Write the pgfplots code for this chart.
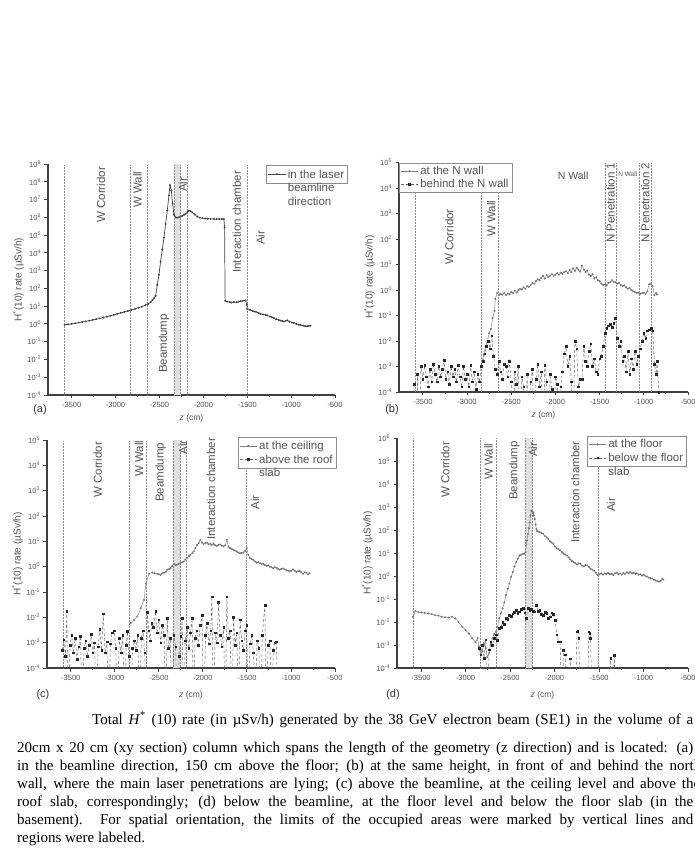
\documentclass[border=0pt]{standalone}
\usepackage{fontspec}
\setmainfont{Liberation Sans}
\newfontfamily\capfont{Liberation Serif}
\usepackage{pgfplots}
\pgfplotsset{compat=1.18}

\definecolor{axc}{gray}{0.25}
\definecolor{txc}{gray}{0.33}

\pgfplotsset{
  every axis/.append style={
    scale only axis,
    xmin=-3770, xmax=-500,
    axis x line*=bottom, axis y line*=left,
    axis line style={line width=1.5pt, draw=axc},
    xtick={-3500,-3000,...,-500}, minor x tick num=1,
    tick align=outside,
    major tick length=3.5pt, minor tick length=2pt,
    tick style={draw=axc, line width=0.9pt},
    xticklabel style={font=\fontsize{7.5}{8}\selectfont, text=txc},
    yticklabel style={font=\fontsize{7.5}{8}\selectfont, text=txc},
    xlabel style={font=\fontsize{8.5}{9}\selectfont, text=txc},
    ylabel style={font=\fontsize{10}{11}\selectfont, text=txc, yshift=-3pt},
    legend cell align=left,
    legend style={font=\fontsize{11.5}{13.5}\selectfont, text=txc, draw=black!45,
      line width=0.6pt, inner sep=1.5pt, row sep=-1pt, fill=white},
  },
  vline/.style={black!45, densely dotted, line width=0.5pt, forget plot},
  sA/.style={black!75, line width=0.7pt, mark=*, mark size=0.55pt},
  sTop/.style={black!50, line width=0.45pt, mark=*, mark size=0.75pt,
    mark options={fill=black!45, draw=black!55}},
  sBot/.style={black!60, line width=0.45pt, densely dashed, mark=square*, mark size=0.85pt,
    mark options={solid, fill=black!85, draw=black!85}},
}
\tikzset{
  lbl/.style={rotate=90, anchor=west, font=\fontsize{11.5}{11.5}\selectfont, text=txc, inner sep=0pt},
  pl/.style={font=\fontsize{11}{11}\selectfont, text=black!80, inner sep=0pt},
}

\begin{document}
\begin{tikzpicture}
\useasboundingbox (0,0) rectangle (695pt,-864pt);
\fill[white] (0,0) rectangle (695pt,-864pt);

% ---------------- (a) ----------------
\begin{axis}[ymode=log, log basis y=10, clip mode=individual,
  /pgf/number format/assume math mode=true, /pgf/number format/1000 sep={},
  yticklabel={10\textsuperscript{\pgfmathprintnumber{\tick}}},
  xlabel={\textit{z} (cm)}, ylabel={H\textsuperscript{*}(10) rate (µSv/h)},
  at={(48pt,-164pt)}, anchor=north west,
  width=287pt, height=231pt, ymin=1e-4, ymax=1e9, ytickten={-4,...,9},
  legend style={at={(1.045,0.996)}, anchor=north east}]
\fill[black!12] (axis cs:-2335,1e-4) rectangle (axis cs:-2260,1e9);
\addplot[vline] coordinates {(-3580,1e-4) (-3580,1e9)};
\addplot[vline] coordinates {(-2835,1e-4) (-2835,1e9)};
\addplot[vline] coordinates {(-2640,1e-4) (-2640,1e9)};
\addplot[vline] coordinates {(-2335,1e-4) (-2335,1e9)};
\addplot[vline] coordinates {(-2260,1e-4) (-2260,1e9)};
\addplot[vline] coordinates {(-2185,1e-4) (-2185,1e9)};
\addplot[vline] coordinates {(-1500,1e-4) (-1500,1e9)};
\addplot[sA] coordinates {
(-3580,0.89) (-3540,0.95) (-3500,1.0) (-3460,1.08) (-3420,1.18) (-3380,1.28) (-3340,1.4)
(-3300,1.52) (-3260,1.68) (-3220,1.85) (-3180,2.05) (-3140,2.3) (-3100,2.55) (-3060,2.85)
(-3020,3.25) (-2980,3.7) (-2940,4.2) (-2900,4.75) (-2860,5.4) (-2820,6.1) (-2780,7.0)
(-2740,8.1) (-2700,9.4) (-2660,11.3) (-2630,13) (-2600,17) (-2580,22) (-2563,28) (-2544,38)
(-2525,155) (-2506,580) (-2487,3.3e3) (-2468,1.5e4) (-2449,7.2e4) (-2430,4.2e5) (-2411,2.4e6)
(-2392,1.7e7) (-2380,6.5e7) (-2365,3.3e7) (-2350,5.8e6) (-2335,1.4e6) (-2316,1.0e6)
(-2300,9.5e5) (-2280,1.0e6) (-2259,1.1e6) (-2240,1.2e6) (-2220,1.4e6) (-2202,1.55e6)
(-2180,2.0e6) (-2164,2.4e6) (-2145,2.2e6) (-2126,1.9e6) (-2100,1.45e6) (-2069,1.1e6)
(-2040,9.5e5) (-2010,9e5) (-1980,8.6e5) (-1950,8.3e5) (-1920,8.1e5) (-1879,8e5) (-1850,8e5)
(-1820,8e5) (-1790,8e5) (-1766,8e5) (-1758,2.7e5) (-1752,20) (-1730,18) (-1700,17)
(-1680,16) (-1652,17) (-1620,16.5) (-1600,18) (-1576,19) (-1550,20) (-1519,21) (-1505,12)
(-1500,7.2) (-1470,6.2) (-1440,5.4) (-1424,5) (-1400,4.8) (-1370,4.1) (-1348,3.7) (-1320,3.4)
(-1290,3.2) (-1272,3.0) (-1240,2.6) (-1220,2.4) (-1196,2.1) (-1170,1.85) (-1140,1.65)
(-1120,1.55) (-1100,1.45) (-1082,1.36) (-1060,1.5) (-1044,1.6) (-1020,1.35) (-990,1.2)
(-969,1.15) (-940,1.0) (-910,0.9) (-892,0.87) (-860,0.8) (-840,0.75) (-817,0.74) (-800,0.78)
(-779,0.8)};
\addlegendentry{\begin{tabular}[t]{@{}l@{}}in the laser\\beamline\\direction\end{tabular}}
\node[lbl] at (axis cs:-3165,4.9e5) {W Corridor};
\node[lbl] at (axis cs:-2750,3.4e6) {W Wall};
\node[lbl] at (axis cs:-2235,2.7e7) {Air};
\node[lbl] at (axis cs:-2450,1.7e-3) {Beamdump};
\node[lbl] at (axis cs:-1620,750) {Interaction chamber};
\node[lbl] at (axis cs:-1350,2.8e4) {Air};
\node[pl, anchor=center, xshift=-8pt, yshift=-15pt] at (rel axis cs:0,0) {(a)};
\end{axis}

% ---------------- (b) ----------------
\begin{axis}[ymode=log, log basis y=10, clip mode=individual,
  /pgf/number format/assume math mode=true, /pgf/number format/1000 sep={},
  yticklabel={10\textsuperscript{\pgfmathprintnumber{\tick}}},
  xlabel={\textit{z} (cm)}, ylabel={H\textsuperscript{*}(10) rate (µSv/h)},
  at={(399pt,-162.5pt)}, anchor=north west,
  width=289pt, height=229.5pt, ymin=1e-4, ymax=1e5, ytickten={-4,...,5},
  legend style={at={(0,1)}, anchor=north west}]
\addplot[vline] coordinates {(-3590,1e-4) (-3590,1e5)};
\addplot[vline] coordinates {(-2840,1e-4) (-2840,1e5)};
\addplot[vline] coordinates {(-2645,1e-4) (-2645,1e5)};
\addplot[vline] coordinates {(-1440,1e-4) (-1440,1e5)};
\addplot[vline] coordinates {(-1315,1e-4) (-1315,1e5)};
\addplot[vline] coordinates {(-1050,1e-4) (-1050,1e5)};
\addplot[vline] coordinates {(-915,1e-4) (-915,1e5)};
\addplot[sTop] coordinates {
(-2830,1.5e-3) (-2810,3e-3) (-2790,6e-3) (-2770,1e-2) (-2750,2e-2) (-2730,3e-2) (-2710,8e-2)
(-2690,0.15) (-2680,0.45) (-2660,0.76) (-2640,0.63) (-2620,0.71) (-2600,0.66) (-2580,0.76)
(-2560,0.63) (-2540,0.72) (-2520,0.68) (-2500,0.83) (-2480,0.76) (-2460,0.95) (-2440,0.79)
(-2420,1.0) (-2400,1.12) (-2380,1.05) (-2360,1.26) (-2340,1.12) (-2320,1.41) (-2300,1.32)
(-2280,1.58) (-2260,1.91) (-2240,1.78) (-2220,2.24) (-2200,2.63) (-2180,2.4) (-2160,3.02)
(-2140,3.55) (-2120,2.82) (-2100,3.8) (-2080,3.16) (-2060,3.55) (-2040,4.17) (-2020,3.63)
(-2000,3.98) (-1980,4.57) (-1960,3.98) (-1940,4.79) (-1920,4.27) (-1900,5.01) (-1880,5.5)
(-1860,4.57) (-1840,6.03) (-1820,5.01) (-1800,7.08) (-1780,5.62) (-1760,7.59) (-1740,6.31)
(-1720,5.25) (-1700,8.91) (-1680,6.31) (-1660,5.01) (-1640,5.75) (-1620,3.98) (-1600,3.55)
(-1580,4.17) (-1560,2.82) (-1540,3.16) (-1520,2.4) (-1500,2.24) (-1480,1.78) (-1460,1.58)
(-1440,1.66) (-1420,1.51) (-1400,1.91) (-1380,2.0) (-1360,2.4) (-1340,2.09) (-1320,2.0)
(-1300,1.78) (-1280,1.91) (-1260,1.58) (-1240,1.41) (-1220,1.51) (-1200,1.26) (-1180,1.12)
(-1160,1.2) (-1140,1.0) (-1120,0.89) (-1100,0.83) (-1080,0.76) (-1060,0.79) (-1040,0.71)
(-1020,0.76) (-1000,0.79) (-980,0.71) (-960,0.89) (-940,1.66) (-920,1.78) (-900,1.41)
(-880,0.63) (-860,0.76) (-850,0.66)};
\addlegendentry{at the N wall}
\addplot[sBot] coordinates {
(-3600,2e-4) (-3580,1e-6) (-3560,5e-4) (-3540,1e-6) (-3520,1e-3) (-3500,3.2e-4) (-3480,1.12e-3)
(-3460,4e-4) (-3440,1.6e-4) (-3420,7.9e-4) (-3400,2.5e-4) (-3380,1.26e-3) (-3360,5e-4)
(-3340,2.5e-4) (-3320,1e-3) (-3300,4e-4) (-3280,7.9e-4) (-3260,1.8e-3) (-3240,3.2e-4)
(-3220,6.3e-4) (-3200,2e-4) (-3180,1e-3) (-3160,4e-4) (-3140,7.9e-4) (-3120,2.5e-4)
(-3100,1.12e-3) (-3080,4e-4) (-3060,1.6e-4) (-3040,1e-3) (-3020,3.2e-4) (-3000,5e-4)
(-2980,1.6e-4) (-2960,1.12e-3) (-2940,2.5e-4) (-2920,6.3e-4) (-2900,1.26e-4) (-2880,5e-4)
(-2860,2.5e-4) (-2840,1e-3) (-2820,1.6e-3) (-2800,3.2e-3) (-2780,6.3e-3) (-2760,1e-2)
(-2740,5e-3) (-2720,1.6e-2) (-2700,2.5e-3) (-2680,7.9e-4) (-2660,5e-4) (-2640,1.6e-3)
(-2620,6.3e-4) (-2600,3.2e-4) (-2580,1.26e-3) (-2560,1e-3) (-2540,4e-4) (-2520,1.6e-3)
(-2500,2.5e-4) (-2480,1e-6) (-2460,6.3e-4) (-2440,2e-4) (-2420,1e-3) (-2400,1e-6)
(-2380,4e-4) (-2360,1.6e-4) (-2340,1e-6) (-2320,5e-4) (-2300,1e-6) (-2280,2.5e-4)
(-2260,7.9e-4) (-2240,1e-6) (-2220,3.2e-4) (-2200,1.26e-3) (-2180,1.6e-4) (-2160,6.3e-4)
(-2140,1e-6) (-2120,1.12e-3) (-2100,2.5e-4) (-2080,1e-6) (-2060,5e-4) (-2040,1.26e-4)
(-2020,1e-6) (-2000,4e-4) (-1980,2e-4) (-1960,1e-6) (-1940,1.6e-4) (-1920,6.3e-4)
(-1900,3.2e-3) (-1880,6.3e-3) (-1860,1e-3) (-1840,2.5e-3) (-1820,2.5e-4) (-1800,1e-6)
(-1780,1e-2) (-1760,5e-3) (-1740,1.6e-4) (-1720,3.2e-4) (-1700,3.2e-4) (-1680,6.3e-3)
(-1660,1.6e-3) (-1640,1e-3) (-1620,4e-3) (-1600,7.9e-3) (-1580,1e-3) (-1560,2e-3)
(-1540,6.3e-4) (-1520,5e-4) (-1500,2e-3) (-1480,2.5e-3) (-1460,6.3e-3) (-1440,2e-2)
(-1420,3.2e-2) (-1400,4e-2) (-1380,4.5e-2) (-1360,3.5e-2) (-1340,5e-2) (-1320,7.9e-2)
(-1300,1.26e-2) (-1280,6.3e-3) (-1260,1e-2) (-1240,1.6e-3) (-1220,2.5e-3) (-1200,6.3e-4)
(-1180,4e-3) (-1160,5e-4) (-1140,2e-3) (-1120,7.9e-4) (-1100,4e-3) (-1080,1.26e-3)
(-1060,2.5e-3) (-1040,5e-3) (-1020,1e-2) (-1000,2e-2) (-980,1.26e-2) (-960,2.5e-2)
(-940,2.8e-2) (-920,3.2e-2) (-900,2.5e-2) (-880,1.26e-3) (-860,5e-4) (-850,1.6e-3)
(-830,1e-4)};
\addlegendentry{behind the N wall}
\node[lbl] at (axis cs:-3200,9.5) {W Corridor};
\node[lbl] at (axis cs:-2725,120) {W Wall};
\node[lbl] at (axis cs:-1378,70) {N Penetration 1};
\node[lbl] at (axis cs:-983,70) {N Penetration 2};
\node[font=\fontsize{10.5}{10.5}\selectfont, text=txc] at (axis cs:-1800,3e4) {N Wall};
\node[font=\fontsize{6.5}{6.5}\selectfont, text=txc] at (axis cs:-1182,3.5e4) {N Wall};
\node[pl, anchor=center, xshift=-7pt, yshift=-18pt] at (rel axis cs:0,0) {(b)};
\end{axis}

% ---------------- (c) ----------------
\begin{axis}[ymode=log, log basis y=10, clip mode=individual,
  /pgf/number format/assume math mode=true, /pgf/number format/1000 sep={},
  yticklabel={10\textsuperscript{\pgfmathprintnumber{\tick}}},
  xlabel={\textit{z} (cm)}, ylabel={H\textsuperscript{*}(10) rate (µSv/h)},
  at={(47pt,-440pt)}, anchor=north west,
  width=288pt, height=228pt, ymin=1e-4, ymax=1e5, ytickten={-4,...,5},
  xlabel style={yshift=-4pt},
  legend style={at={(1.005,1.013)}, anchor=north east}]
\fill[black!12] (axis cs:-2335,1e-4) rectangle (axis cs:-2260,1e5);
\addplot[vline] coordinates {(-3590,1e-4) (-3590,1e5)};
\addplot[vline] coordinates {(-2840,1e-4) (-2840,1e5)};
\addplot[vline] coordinates {(-2640,1e-4) (-2640,1e5)};
\addplot[vline] coordinates {(-2335,1e-4) (-2335,1e5)};
\addplot[vline] coordinates {(-2260,1e-4) (-2260,1e5)};
\addplot[vline] coordinates {(-2185,1e-4) (-2185,1e5)};
\addplot[vline] coordinates {(-1510,1e-4) (-1510,1e5)};
\addplot[sTop] coordinates {
(-2819,5.9e-3) (-2781,7.9e-3) (-2744,1.1e-2) (-2706,2.3e-2) (-2669,4.9e-2) (-2646,0.22)
(-2612,0.52) (-2574,0.59) (-2550,0.55) (-2518,0.52) (-2500,0.5) (-2481,0.48) (-2460,0.55)
(-2443,0.58) (-2420,0.62) (-2405,0.76) (-2385,0.8) (-2368,0.87) (-2350,1.05) (-2330,1.29)
(-2310,1.15) (-2293,1.2) (-2275,1.3) (-2255,1.38) (-2235,1.5) (-2217,1.58) (-2200,1.9)
(-2180,2.2) (-2160,2.6) (-2142,2.95) (-2120,3.4) (-2104,4.0) (-2085,5.5) (-2067,7.2)
(-2048,8.5) (-2029,11.5) (-2010,9) (-1992,7.9) (-1972,8.5) (-1954,8.9) (-1935,7.6)
(-1916,8.0) (-1898,7.2) (-1879,8.1) (-1860,7.0) (-1841,6.6) (-1822,7.3) (-1804,7.5)
(-1785,6.8) (-1766,6.3) (-1748,7.0) (-1728,11.5) (-1710,6.2) (-1691,5.4) (-1672,5.0)
(-1653,4.6) (-1635,4.3) (-1616,4.0) (-1597,3.6) (-1578,3.4) (-1560,3.5) (-1540,3.6)
(-1522,4.1) (-1503,5.4) (-1484,2.9) (-1465,2.2) (-1446,2.0) (-1427,1.86) (-1408,1.6)
(-1390,1.45) (-1370,1.5) (-1352,1.38) (-1333,1.25) (-1315,1.3) (-1296,1.15) (-1277,1.07)
(-1258,1.12) (-1239,1.0) (-1220,0.95) (-1202,0.87) (-1183,0.95) (-1164,0.9) (-1145,0.8)
(-1126,0.76) (-1108,0.82) (-1089,0.85) (-1070,0.78) (-1051,0.72) (-1032,0.7) (-1014,0.65)
(-995,0.7) (-976,0.78) (-958,0.7) (-939,0.62) (-920,0.66) (-901,0.68) (-882,0.6) (-863,0.52)
(-845,0.6) (-826,0.58) (-807,0.5) (-788,0.55)};
\addlegendentry{at the ceiling}
\addplot[sBot] coordinates {
(-3600,5e-4) (-3580,1.3e-3) (-3560,3e-4) (-3545,1.7e-2) (-3530,1e-6) (-3510,8e-4) (-3490,2e-3)
(-3470,4e-4) (-3450,1.5e-3) (-3430,2.2e-4) (-3410,7e-4) (-3390,1.8e-3) (-3370,1e-6)
(-3350,6e-4) (-3330,1.2e-3) (-3310,3e-4) (-3290,8e-4) (-3270,2.2e-3) (-3250,4e-4)
(-3230,1e-3) (-3210,1e-6) (-3190,7e-4) (-3170,3.5e-3) (-3150,5e-4) (-3131,1.4e-2)
(-3110,4e-4) (-3090,1.1e-3) (-3070,1e-6) (-3050,9e-4) (-3030,2.5e-3) (-3007,3e-3)
(-2990,6e-4) (-2970,1e-6) (-2950,1.5e-3) (-2930,4e-4) (-2910,2e-3) (-2890,1e-6)
(-2870,8e-4) (-2857,2.8e-3) (-2840,3e-4) (-2820,1e-6) (-2800,6e-4) (-2780,1.2e-3)
(-2760,5e-4) (-2740,2e-3) (-2720,1e-6) (-2700,1.5e-3) (-2680,3e-3) (-2660,4e-4) (-2645,1e-6)
(-2631,1.6e-2) (-2615,3e-3) (-2600,1.2e-3) (-2580,6e-3) (-2560,4e-3) (-2537,1.7e-2)
(-2520,2.5e-3) (-2500,8e-3) (-2480,1e-3) (-2460,5e-3) (-2440,2e-3) (-2420,1e-6) (-2405,9e-3)
(-2390,6e-4) (-2370,1.5e-3) (-2350,1e-6) (-2330,2e-3) (-2310,7e-4) (-2290,1e-6) (-2270,3e-4)
(-2250,1.8e-3) (-2236,9e-3) (-2220,1e-6) (-2200,1.2e-3) (-2180,4e-3) (-2160,6e-4)
(-2140,2.5e-3) (-2123,9e-3) (-2105,1e-6) (-2090,1.5e-3) (-2070,3e-3) (-2050,8e-4)
(-2030,5e-3) (-2010,1.2e-2) (-1990,1e-6) (-1970,2e-3) (-1950,6e-3) (-1930,9e-4) (-1910,3e-3)
(-1898,6.5e-2) (-1880,1e-6) (-1860,2.5e-3) (-1840,1e-3) (-1822,4e-2) (-1805,2e-3)
(-1785,7e-4) (-1765,4e-3) (-1745,1e-6) (-1728,6.5e-2) (-1710,1.5e-3) (-1690,3e-3)
(-1670,1e-6) (-1653,1e-2) (-1635,8e-4) (-1615,2.5e-3) (-1597,1e-6) (-1578,8e-3)
(-1560,1.2e-3) (-1540,5e-4) (-1520,3e-3) (-1503,5e-3) (-1485,1e-6) (-1465,9e-4) (-1445,2e-3)
(-1425,4e-4) (-1405,1e-6) (-1385,1.2e-3) (-1365,6e-4) (-1345,1e-6) (-1325,2e-3)
(-1296,3e-2) (-1280,1e-6) (-1260,8e-4) (-1239,1.2e-3) (-1220,1e-6) (-1200,5e-4)
(-1183,1e-3) (-1164,1.1e-3) (-1150,1e-6)};
\addlegendentry{\begin{tabular}[t]{@{}l@{}}above the roof\\slab\end{tabular}}
\node[lbl] at (axis cs:-3195,520) {W Corridor};
\node[lbl] at (axis cs:-2725,3500) {W Wall};
\node[lbl] at (axis cs:-2480,360) {Beamdump};
\node[lbl] at (axis cs:-2225,2.6e4) {Air};
\node[lbl] at (axis cs:-1909,11.5) {Interaction chamber};
\node[lbl] at (axis cs:-1409,180) {Air};
\node[pl, anchor=center, xshift=-4pt, yshift=-27pt] at (rel axis cs:0,0) {(c)};
\end{axis}

% ---------------- (d) ----------------
\begin{axis}[ymode=log, log basis y=10, clip mode=individual,
  /pgf/number format/assume math mode=true, /pgf/number format/1000 sep={},
  yticklabel={10\textsuperscript{\pgfmathprintnumber{\tick}}},
  xlabel={\textit{z} (cm)}, ylabel={H\textsuperscript{*}(10) rate (µSv/h)},
  at={(397pt,-438pt)}, anchor=north west,
  width=291pt, height=230pt, ymin=1e-4, ymax=1e6, ytickten={-4,...,6},
  xlabel style={yshift=-4pt},
  legend style={at={(0.653,1.01)}, anchor=north west}]
\fill[black!12] (axis cs:-2325,1e-4) rectangle (axis cs:-2252,1e6);
\addplot[vline] coordinates {(-3590,1e-4) (-3590,1e6)};
\addplot[vline] coordinates {(-2838,1e-4) (-2838,1e6)};
\addplot[vline] coordinates {(-2651,1e-4) (-2651,1e6)};
\addplot[vline] coordinates {(-2325,1e-4) (-2325,1e6)};
\addplot[vline] coordinates {(-2252,1e-4) (-2252,1e6)};
\addplot[vline] coordinates {(-1511,1e-4) (-1511,1e6)};
\addplot[sTop] coordinates {
(-3590,1.7e-2) (-3563,2.95e-2) (-3530,2.7e-2) (-3495,2.6e-2) (-3460,2.5e-2) (-3419,2.35e-2)
(-3380,2.2e-2) (-3343,2.0e-2) (-3305,1.9e-2) (-3267,1.7e-2) (-3230,1.6e-2) (-3191,1.55e-2)
(-3153,1.7e-2) (-3115,1.45e-2) (-3077,1.0e-2) (-3039,6.3e-3) (-3001,4.5e-3) (-2963,3.2e-3)
(-2925,1.95e-3) (-2887,1.3e-3) (-2865,2e-3) (-2849,8.7e-4) (-2830,4e-4) (-2811,5.2e-4)
(-2792,1.2e-3) (-2773,7.2e-4) (-2754,3e-4) (-2735,4.5e-4) (-2716,1.1e-3) (-2697,1.95e-3)
(-2678,3e-3) (-2659,3.8e-3) (-2640,6e-3) (-2621,1.45e-2) (-2602,2.4e-2) (-2583,3.9e-2)
(-2564,7e-2) (-2545,0.15) (-2526,0.28) (-2507,0.47) (-2488,0.9) (-2469,1.5) (-2450,2.6)
(-2431,4.0) (-2412,5.6) (-2393,7.8) (-2374,8.5) (-2355,9.1) (-2340,9.5) (-2325,11) (-2310,35)
(-2298,68) (-2289,120) (-2279,210) (-2270,420) (-2260,680) (-2250,640) (-2241,570)
(-2232,420) (-2222,300) (-2212,170) (-2203,110) (-2194,90) (-2184,85) (-2165,80) (-2146,72)
(-2127,68) (-2108,55) (-2089,48) (-2070,40) (-2051,33) (-2032,29) (-2013,25) (-1994,19)
(-1975,16) (-1956,14.5) (-1937,13) (-1918,11) (-1899,9.5) (-1880,8.5) (-1861,7.8) (-1842,6.5)
(-1823,5.2) (-1804,4.5) (-1785,4.0) (-1766,3.6) (-1747,3.2) (-1728,3.5) (-1709,3.4)
(-1690,2.8) (-1671,2.6) (-1652,3.0) (-1633,2.9) (-1614,2.5) (-1595,2.1) (-1576,1.9)
(-1557,1.7) (-1538,1.4) (-1520,1.15) (-1511,1.07) (-1492,1.2) (-1473,1.3) (-1454,1.15)
(-1435,1.3) (-1416,1.2) (-1397,1.35) (-1378,1.2) (-1359,1.25) (-1340,1.1) (-1321,1.3)
(-1302,1.4) (-1283,1.2) (-1264,1.3) (-1245,1.15) (-1226,1.35) (-1207,1.25) (-1188,1.45)
(-1169,1.3) (-1150,1.5) (-1131,1.3) (-1112,1.4) (-1093,1.25) (-1074,1.3) (-1055,1.15)
(-1036,1.2) (-1017,1.05) (-998,1.15) (-979,1.0) (-960,0.95) (-941,0.85) (-922,0.8)
(-903,0.78) (-884,0.7) (-865,0.65) (-846,0.6) (-827,0.58) (-808,0.62) (-789,0.75) (-778,0.7)};
\addlegendentry{at the floor}
\addplot[sBot] coordinates {
(-2849,7.2e-4) (-2830,3.8e-4) (-2811,1e-3) (-2792,2.7e-4) (-2773,1.7e-3) (-2754,1e-6)
(-2735,6.2e-4) (-2716,1.4e-3) (-2697,1e-3) (-2678,2e-3) (-2659,2.8e-3) (-2640,1.6e-3)
(-2621,5.4e-3) (-2602,6e-3) (-2583,1e-2) (-2564,8e-3) (-2545,1.45e-2) (-2526,1.3e-2)
(-2507,2e-2) (-2488,1.8e-2) (-2469,2.3e-2) (-2450,2.6e-2) (-2431,3.3e-2) (-2412,2.4e-2)
(-2393,2.8e-2) (-2374,3.5e-2) (-2355,3.9e-2) (-2336,2.5e-2) (-2317,1.45e-2) (-2298,4e-2)
(-2279,3.3e-2) (-2260,3.6e-2) (-2241,3e-2) (-2222,2.8e-2) (-2203,5.4e-2) (-2184,3e-2)
(-2165,3.2e-2) (-2146,2.2e-2) (-2127,2.0e-2) (-2108,2.6e-2) (-2089,2.4e-2) (-2070,1.5e-2)
(-2051,1.7e-2) (-2032,2.5e-2) (-2013,2.2e-2) (-1994,1.2e-2) (-1975,2.8e-3) (-1956,1.4e-3)
(-1937,1.4e-3) (-1918,1e-6) (-1899,6e-4) (-1880,3.8e-4) (-1861,1e-6) (-1842,1e-6)
(-1823,2.5e-4) (-1804,1e-6) (-1785,1e-6) (-1766,1e-6) (-1747,3.8e-3) (-1738,4.2e-3)
(-1728,2e-3) (-1709,1e-6) (-1690,1e-6) (-1671,1e-6) (-1652,1e-6) (-1633,1e-6)
(-1614,3.8e-3) (-1604,3.2e-3) (-1595,2e-3) (-1576,1e-6) (-1500,1e-6) (-1400,1e-6)
(-1367,2.7e-4) (-1348,1e-6) (-1329,3.5e-4) (-1310,1e-6)};
\addlegendentry{\begin{tabular}[t]{@{}l@{}}below the floor\\slab\end{tabular}}
\node[lbl] at (axis cs:-3229,2.5e3) {W Corridor};
\node[lbl] at (axis cs:-2743,1.5e4) {W Wall};
\node[lbl] at (axis cs:-2450,2e3) {Beamdump};
\node[lbl] at (axis cs:-2241,1.5e5) {Air};
\node[lbl] at (axis cs:-1766,27) {Interaction chamber};
\node[lbl] at (axis cs:-1367,600) {Air};
\node[pl, anchor=center, xshift=-4pt, yshift=-27pt] at (rel axis cs:0,0) {(d)};
\end{axis}

% ---------------- caption ----------------
\begin{scope}[every node/.style={anchor=base west, inner sep=0pt,
    font=\capfont\fontsize{15}{18}\selectfont, text=black}]
\node at (92pt,-724pt) {\makebox[601pt][s]{Total \textit{H}\textsuperscript{*} (10) rate (in µSv/h) generated by the 38 GeV electron beam (SE1) in the volume of a}};
\node at (17pt,-752pt) {\makebox[676pt][s]{20cm x 20 cm (xy section) column which spans the length of the geometry (z direction) and is located: (a)}};
\node at (17pt,-770pt) {\makebox[684pt][s]{in the beamline direction, 150 cm above the floor; (b) at the same height, in front of and behind the north}};
\node at (17pt,-788pt) {\makebox[683pt][s]{wall, where the main laser penetrations are lying; (c) above the beamline, at the ceiling level and above the}};
\node at (17pt,-806pt) {\makebox[676pt][s]{roof slab, correspondingly; (d) below the beamline, at the floor level and below the floor slab (in the}};
\node at (17pt,-824pt) {\makebox[676pt][s]{basement). For spatial orientation, the limits of the occupied areas were marked by vertical lines and}};
\node at (17pt,-842pt) {regions were labeled.};
\end{scope}
\end{tikzpicture}
\end{document}
